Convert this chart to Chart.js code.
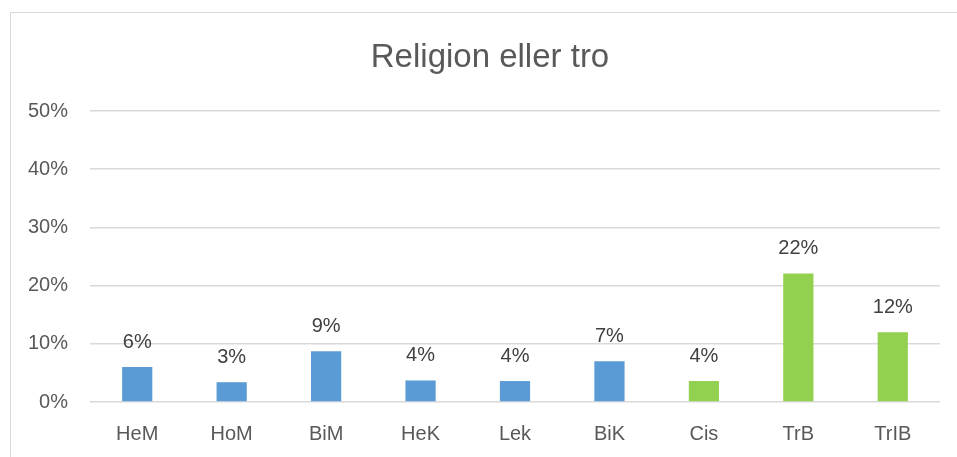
<!DOCTYPE html>
<html>
<head>
<meta charset="utf-8">
<script src="https://cdn.jsdelivr.net/npm/chart.js@4.4.1/dist/chart.umd.min.js"></script>
<style>
  html, body { margin: 0; padding: 0; background: #ffffff; overflow: hidden; width: 957px; height: 457px; }
  #frame { position: absolute; left: 10px; top: 12px; width: 1000px; height: 1000px; border: 1px solid #d9d9d9; box-sizing: border-box; }
  #wrap { position: absolute; left: 0; top: 0; width: 980px; height: 457px; }
</style>
</head>
<body>
<div id="frame"></div>
<div id="wrap"><canvas id="c" width="980" height="457"></canvas></div>
<script>
const titleText = "Religion eller tro";
const categories = ["HeM", "HoM", "BiM", "HeK", "Lek", "BiK", "Cis", "TrB", "TrIB"];
const values = [6.0, 3.4, 8.7, 3.7, 3.6, 7.0, 3.6, 22.1, 12.0];
const groups = ["blue", "blue", "blue", "blue", "blue", "blue", "green", "green", "green"];
const yTicks = [0, 10, 20, 30, 40, 50];

const palette = { blue: "#5B9BD5", green: "#92D050" };
const FONT = "'Liberation Sans', Arial, sans-serif";

const chartTitle = {
  id: "chartTitle",
  afterDraw(chart) {
    const ctx = chart.ctx;
    ctx.save();
    ctx.font = "33px " + FONT;
    ctx.fillStyle = "#595959";
    ctx.textAlign = "center";
    ctx.textBaseline = "alphabetic";
    ctx.fillText(titleText, 490, 67);
    ctx.restore();
  }
};

const dataLabels = {
  id: "dataLabels",
  afterDatasetsDraw(chart) {
    const ctx = chart.ctx;
    const meta = chart.getDatasetMeta(0);
    ctx.save();
    ctx.font = "20px " + FONT;
    ctx.fillStyle = "#404040";
    ctx.textAlign = "center";
    ctx.textBaseline = "middle";
    meta.data.forEach((bar, i) => {
      ctx.fillText(Math.round(values[i]) + "%", bar.x, bar.y - 25);
    });
    ctx.restore();
  }
};

new Chart(document.getElementById("c"), {
  type: "bar",
  data: {
    labels: categories,
    datasets: [{
      data: values,
      backgroundColor: groups.map(g => palette[g]),
      borderWidth: 0,
      categoryPercentage: 1,
      barPercentage: 0.32
    }]
  },
  options: {
    responsive: false,
    animation: false,
    devicePixelRatio: 1,
    layout: { padding: { left: 0, right: 40, top: 111, bottom: 0 } },
    plugins: {
      legend: { display: false },
      tooltip: { enabled: false },
      title: { display: false }
    },
    scales: {
      x: {
        grid: { display: false, drawTicks: false },
        border: { display: false },
        ticks: { color: "#595959", font: { family: FONT, size: 20 }, padding: 20 },
        afterFit(scale) { scale.height = 55; }
      },
      y: {
        min: 0,
        max: 50,
        afterBuildTicks(scale) { scale.ticks = yTicks.map(v => ({ value: v })); },
        grid: { color: "#d9d9d9", lineWidth: 1.5, drawTicks: false },
        border: { display: false },
        ticks: {
          color: "#595959",
          font: { family: FONT, size: 20 },
          padding: 22,
          callback: v => v + "%"
        },
        afterFit(scale) { scale.width = 90; }
      }
    }
  },
  plugins: [dataLabels, chartTitle]
});
</script>
</body>
</html>
